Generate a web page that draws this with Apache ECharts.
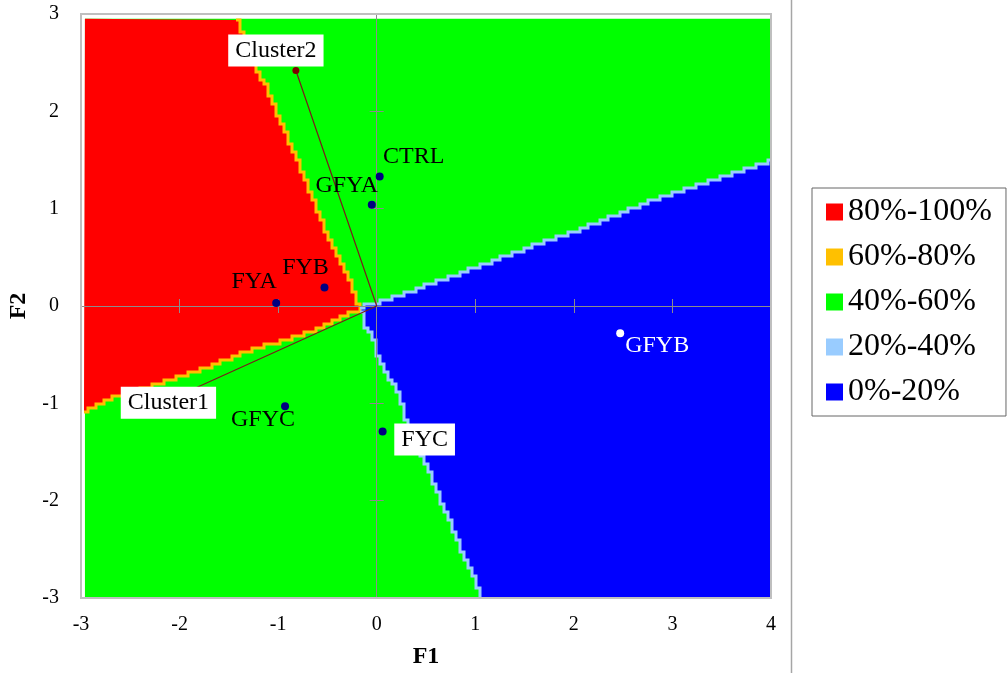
<!DOCTYPE html>
<html><head><meta charset="utf-8">
<script src="https://cdn.jsdelivr.net/npm/echarts@6/dist/echarts.min.js"></script>
<style>html,body{margin:0;padding:0;background:#fff}#chart{width:1008px;height:673px}</style>
</head><body><div id="chart"></div>
<script>
// ---------- data ----------
const xRange = [-3, 4];
const yRange = [-3, 3];
const legendNames = ['80%-100%', '60%-80%', '40%-60%', '20%-40%', '0%-20%'];
// extent of the coloured preference grid
const mapArea = [[-2.96, -3], [4, 2.95]];
// boundary red (80-100%) / green, from top edge to centre
const redTopEdge = [[-1.42, 2.95], [-1.37, 2.83], [-1.22, 2.45], [-1.09, 2.19], [-0.98, 1.91], [-0.88, 1.67],
  [-0.75, 1.37], [-0.61, 1.02], [-0.51, 0.75], [-0.38, 0.47], [-0.27, 0.24], [-0.20, 0.03], [-0.15, -0.02]];
// boundary red / green, from centre to left edge
const redBottomEdge = [[-0.15, -0.02], [-0.17, -0.04], [-0.34, -0.11], [-0.68, -0.27], [-1.01, -0.38], [-1.36, -0.48],
  [-1.69, -0.63], [-2.10, -0.76], [-2.37, -0.86], [-2.68, -0.94], [-2.94, -1.07], [-2.96, -1.07]];
// boundary blue (0-20%) / green, from centre to right edge
const blueTopEdge = [[-0.15, -0.04], [-0.11, 0.02], [0.01, 0.04], [0.23, 0.11], [0.57, 0.24], [0.94, 0.37], [1.28, 0.50],
  [1.65, 0.65], [1.99, 0.76], [2.36, 0.91], [2.74, 1.06], [3.10, 1.19], [3.48, 1.31], [3.81, 1.43], [4.0, 1.50]];
// boundary blue / green, from bottom edge to centre
const blueLeftEdge = [[1.06, -3.0], [1.01, -2.84], [0.91, -2.61], [0.81, -2.37], [0.71, -2.13], [0.61, -1.89], [0.51, -1.65],
  [0.41, -1.41], [0.30, -1.17], [0.23, -0.93], [0.13, -0.73], [0.03, -0.55], [-0.04, -0.32], [-0.14, -0.17], [-0.15, -0.06]];
const products = ['CTRL', 'GFYA', 'FYB', 'FYA', 'GFYC', 'FYC', 'GFYB'];
const productF1 = [0.03, -0.05, -0.53, -1.02, -0.93, 0.06, 2.47];
const productF2 = [1.33, 1.04, 0.19, 0.03, -1.03, -1.29, -0.28];
const clusters = ['Cluster1', 'Cluster2'];
const clusterF1 = [-1.90, -0.82];
const clusterF2 = [-0.87, 2.42];
const vectorOrigin = [0, 0];

// ---------- styles ----------
const SERIF = '"Liberation Serif", "Times New Roman", serif';
const COLORS = { red: '#ff0000', yellow: '#ffc000', green: '#00ff00', lightblue: '#99ccff', blue: '#0000ff' };
const labelOffsets = {
  CTRL: [34, -20], GFYA: [-25, -19], FYB: [-19, -20], FYA: [-22, -21], GFYC: [-22, 13],
  FYC: [42, 8], GFYB: [37, 12], Cluster1: [-21, 12], Cluster2: [-20, -20]
};
const boxed = { FYC: true, Cluster1: true, Cluster2: true };
const STEP = 4; // pixel size of the preference-map raster

function stairs(pix) {
  const out = [];
  let last = null;
  for (let i = 0; i < pix.length - 1; i++) {
    const a = pix[i], b = pix[i + 1];
    const n = Math.max(1, Math.ceil(Math.hypot(b[0] - a[0], b[1] - a[1])));
    for (let k = 0; k <= n; k++) {
      const x = a[0] + (b[0] - a[0]) * k / n, y = a[1] + (b[1] - a[1]) * k / n;
      const q = [Math.round(x / STEP) * STEP, Math.round(y / STEP) * STEP];
      if (!last) { out.push(q); last = q; continue; }
      if (q[0] !== last[0] || q[1] !== last[1]) {
        if (q[0] !== last[0] && q[1] !== last[1]) out.push([q[0], last[1]]);
        out.push(q); last = q;
      }
    }
  }
  return out;
}
const px = (api, pts) => pts.map(p => api.coord(p));

function fillSeries(name, color, z, build) {
  return {
    type: 'custom', name, coordinateSystem: 'cartesian2d', z, silent: true, clip: true,
    itemStyle: { color }, data: [[0, 0]],
    renderItem(params, api) {
      return { type: 'polygon', shape: { points: build(api) }, style: { fill: color, stroke: null } };
    }
  };
}
function edgeSeries(name, color, z, edges) {
  return {
    type: 'custom', name, coordinateSystem: 'cartesian2d', z, silent: true, clip: true,
    itemStyle: { color }, data: [[0, 0]],
    renderItem(params, api) {
      return {
        type: 'group',
        children: edges.map(e => ({
          type: 'polyline', shape: { points: stairs(px(api, e)) },
          style: { stroke: color, lineWidth: 3, fill: null, lineJoin: 'miter' }
        }))
      };
    }
  };
}

function labelFor(name, white) {
  const l = {
    show: true, position: 'inside', offset: labelOffsets[name], formatter: name, opacity: 1,
    fontFamily: SERIF, fontSize: 24, color: white ? '#ffffff' : '#000000', lineHeight: 24,
    textBorderWidth: 0
  };
  if (boxed[name]) { l.backgroundColor = '#ffffff'; l.padding = [4, 7, 4, 7]; }
  return l;
}

const axisGray = '#8c8c8c';
function zeroAxis(dim, inside, extra) {
  return Object.assign({
    type: 'value', min: dim === 'x' ? xRange[0] : yRange[0], max: dim === 'x' ? xRange[1] : yRange[1], interval: 1, z: 8,
    axisLine: { show: true, onZero: true, onZeroAxisIndex: 0, lineStyle: { color: axisGray, width: 1 } },
    axisTick: { show: true, inside, length: 7, lineStyle: { color: axisGray, width: 1 } },
    axisLabel: { show: false }, splitLine: { show: false }
  }, extra);
}

const option = {
  backgroundColor: '#ffffff',
  animation: false,
  grid: { left: 81, right: 237, top: 14, bottom: 75, show: true, borderColor: '#bfbfbf', borderWidth: 2, z: 9,
    backgroundColor: 'transparent', outerBoundsMode: 'none' },
  xAxis: [
    { type: 'value', min: xRange[0], max: xRange[1], interval: 1, position: 'bottom',
      axisLine: { show: false, onZero: false }, axisTick: { show: false }, splitLine: { show: false },
      axisLabel: { fontFamily: SERIF, fontSize: 20, color: '#000', margin: 17 },
      name: 'F1', nameLocation: 'middle', nameGap: 47,
      nameTextStyle: { fontFamily: SERIF, fontSize: 24, fontWeight: 'bold', color: '#000' } },
    zeroAxis('x', false, { position: 'bottom' }),
    zeroAxis('x', true, { position: 'bottom' })
  ],
  yAxis: [
    { type: 'value', min: yRange[0], max: yRange[1], interval: 1, position: 'left',
      axisLine: { show: false, onZero: false }, axisTick: { show: false }, splitLine: { show: false },
      axisLabel: { fontFamily: SERIF, fontSize: 20, color: '#000', margin: 22 },
      name: 'F2', nameLocation: 'middle', nameGap: 50,
      nameTextStyle: { fontFamily: SERIF, fontSize: 24, fontWeight: 'bold', color: '#000' } },
    zeroAxis('y', false, { position: 'left' }),
    zeroAxis('y', true, { position: 'left' })
  ],
  legend: {
    data: legendNames, orient: 'vertical', left: 812, top: 188, selectedMode: false,
    padding: [8, 14, 8, 14], borderColor: '#666666', borderWidth: 1,
    itemWidth: 17, itemHeight: 17, itemGap: 13, icon: 'rect',
    textStyle: { fontFamily: SERIF, fontSize: 32, lineHeight: 32, color: '#000' }
  },
  graphic: [{ type: 'line', shape: { x1: 791.5, y1: 0, x2: 791.5, y2: 673 }, style: { stroke: '#a6a6a6', lineWidth: 1.5 } }],
  series: [
    fillSeries('40%-60%', COLORS.green, 1, api => px(api, [[mapArea[0][0], mapArea[0][1]], [mapArea[1][0], mapArea[0][1]],
      [mapArea[1][0], mapArea[1][1]], [mapArea[0][0], mapArea[1][1]]])),
    fillSeries('80%-100%', COLORS.red, 2, api => [api.coord([mapArea[0][0], mapArea[1][1]])]
      .concat(stairs(px(api, redTopEdge)), stairs(px(api, redBottomEdge)))),
    fillSeries('0%-20%', COLORS.blue, 2, api => stairs(px(api, blueTopEdge))
      .concat([api.coord([mapArea[1][0], mapArea[0][1]])], stairs(px(api, blueLeftEdge)))),
    edgeSeries('60%-80%', COLORS.yellow, 3, [redTopEdge, redBottomEdge]),
    edgeSeries('20%-40%', COLORS.lightblue, 3, [blueTopEdge, blueLeftEdge]),
    {
      type: 'line', name: 'clusters', z: 10, silent: true,
      lineStyle: { color: '#7a1c1c', width: 1.2, opacity: 1 }, symbol: 'circle', symbolSize: 7,
      itemStyle: { color: '#800000', opacity: 1 },
      data: [
        { name: clusters[0], value: [clusterF1[0], clusterF2[0]], label: labelFor(clusters[0]) },
        { name: 'origin', value: vectorOrigin, symbol: 'none', label: { show: false } },
        { name: clusters[1], value: [clusterF1[1], clusterF2[1]], label: labelFor(clusters[1]) }
      ]
    },
    {
      type: 'scatter', name: 'products', z: 11, silent: true, symbolSize: 8,
      itemStyle: { opacity: 1 },
      data: products.map((n, i) => ({
        name: n, value: [productF1[i], productF2[i]],
        itemStyle: { color: n === 'GFYB' ? '#ffffff' : '#000080', opacity: 1 },
        label: labelFor(n, n === 'GFYB')
      }))
    }
  ]
};
const chart = echarts.init(document.getElementById('chart'), null, { renderer: 'canvas' });
chart.setOption(option);
</script></body></html>
